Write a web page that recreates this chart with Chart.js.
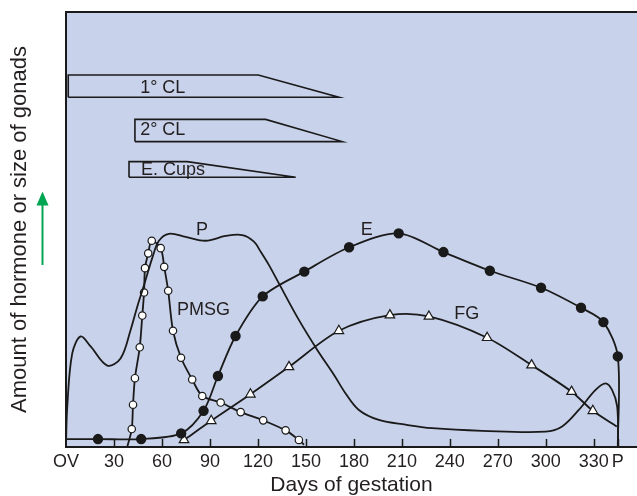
<!DOCTYPE html>
<html>
<head>
<meta charset="utf-8">
<script src="https://cdn.jsdelivr.net/npm/chart.js@4.4.1/dist/chart.umd.min.js"></script>
<style>
html, body { margin: 0; padding: 0; background: #fff; }
</style>
</head>
<body>
<canvas id="gestChart" width="637" height="496"></canvas>
<script>
// x axis: days of gestation (OV = ovulation, P = parturition)
const tickDays = [0, 30, 60, 90, 120, 150, 180, 210, 240, 270, 300, 330, 345];
const tickLabels = ["OV", "30", "60", "90", "120", "150", "180", "210", "240", "270", "300", "330", "P"];

// progesterone (P)
const pDays = [0, 0.8, 3.9, 9.2, 15.4, 25.8, 34.2, 40.4, 44.6, 48.8, 53.9, 58.1, 64.4, 74.8, 87.3, 99.8, 110.2, 117.5, 121.7, 126.9, 133.1, 145.6, 157.1, 167.5, 174.8, 183.1, 195.6, 212.3, 228.9, 260.2, 299.8, 310.2, 320.6, 331.1, 337.3, 341.4, 344.6, 345.2];
const pVals = [0.8, 9.3, 21.5, 25.4, 23.1, 18.7, 20.4, 26.9, 32.3, 37.2, 43.4, 47.4, 49.0, 48.3, 47.4, 48.5, 48.7, 47.2, 44.9, 41.8, 37.6, 29.2, 22.3, 16.6, 12.3, 8.5, 6.2, 5.1, 4.3, 3.7, 3.5, 4.7, 8.5, 13.1, 14.6, 13.1, 9.3, 0];

// estrogens (E)
const eDays = [0, 20, 47, 72, 86, 95, 106, 123, 149, 177, 208, 236, 265, 297, 322, 336, 345, 345];
const eVals = [1.8, 1.8, 1.8, 3.1, 8.3, 16.3, 25.5, 34.6, 40.3, 45.9, 49.1, 44.8, 40.5, 36.6, 32.0, 28.7, 20.8, 0];

// PMSG
const gDays = [38.3, 41.1, 41.9, 43.1, 46.1, 47.7, 48.8, 49.4, 51.4, 53.6, 59.2, 61.4, 63.9, 66.9, 71.9, 78.9, 85.2, 96.7, 109.2, 123.3, 137.3, 145.6, 148.8];
const gVals = [0, 4.1, 9.7, 15.8, 22.9, 30.2, 35.5, 41.1, 44.5, 47.4, 45.7, 41.4, 35.9, 26.7, 20.5, 15.5, 11.7, 10.2, 8.0, 6.1, 3.8, 1.6, 0.5];

// fetal gonads (FG)
const fDays = [73.8, 90.8, 115.3, 139.4, 170.6, 202.5, 226.9, 263.3, 291.1, 316.1, 329.4, 344.4];
const fVals = [1.6, 6.0, 12.1, 18.4, 26.7, 30.3, 30.0, 25.1, 18.8, 12.7, 8.3, 4.7];

// life span bars: 1° CL, 2° CL, endometrial cups
const barNames = ["1° CL", "2° CL", "E. Cups"];
const barStart = [1.4, 43.1, 39.4];
const barTaper = [120.2, 124.8, 75.8];
const barEnd = [170.6, 172.7, 143.6];
const barTop = [85.5, 75.3, 65.6];
const barBottom = [80.4, 70.2, 62.0];

// curve labels
const noteText = ["P", "E", "PMSG", "FG", "1° CL", "2° CL", "E. Cups"];
const noteDays = [85, 188, 86, 250.6, 60.5, 60.5, 66.9];
const noteVals = [49.9, 49.9, 31.5, 30.6, 82.5, 72.9, 63.7];

const FONT = "'Liberation Sans', Arial, Helvetica, sans-serif";
const INK = "#1a1a1a";
Chart.defaults.font.family = FONT;
Chart.defaults.color = "#231f20";

const pts = (xs, ys) => xs.map((d, i) => ({ x: d, y: ys[i] }));
const radii = (n, r, skip) => Array.from({ length: n }, (_, i) => skip.includes(i) ? 0 : r);

const barSets = barNames.map((name, i) => ({
	label: name,
	data: [
		{ x: barStart[i], y: barBottom[i] },
		{ x: barStart[i], y: barTop[i] },
		{ x: barTaper[i], y: barTop[i] },
		{ x: barEnd[i], y: barBottom[i] },
		{ x: barStart[i], y: barBottom[i] }
	],
	borderColor: INK,
	borderWidth: 1.6,
	pointRadius: 0,
	tension: 0,
	fill: false
}));

const decor = {
	id: "decor",
	beforeDraw(chart) {
		const { ctx, chartArea: a } = chart;
		ctx.save();
		ctx.fillStyle = "#c8d2ea";
		ctx.fillRect(a.left, a.top, a.right - a.left, a.bottom - a.top);
		ctx.restore();
	},
	afterDraw(chart) {
		const { ctx, chartArea: a, scales: { x, y } } = chart;
		ctx.save();
		// frame
		ctx.strokeStyle = INK;
		ctx.lineWidth = 2;
		ctx.beginPath();
		ctx.moveTo(a.right, a.top);
		ctx.lineTo(a.left, a.top);
		ctx.lineTo(a.left, a.bottom);
		ctx.lineTo(a.right, a.bottom);
		ctx.stroke();
		// inward tick marks
		ctx.lineWidth = 1.5;
		tickDays.slice(1).forEach(d => {
			const px = Math.round(x.getPixelForValue(d)) + 0.5;
			ctx.beginPath();
			ctx.moveTo(px, a.bottom);
			ctx.lineTo(px, a.bottom - 8);
			ctx.stroke();
		});
		// curve labels
		ctx.fillStyle = "#231f20";
		ctx.font = "18px " + FONT;
		ctx.textAlign = "center";
		ctx.textBaseline = "middle";
		noteText.forEach((t, i) => {
			ctx.fillText(t, x.getPixelForValue(noteDays[i]), y.getPixelForValue(noteVals[i]));
		});
		// green arrow beside the y title
		const ax = a.left - 23.5;
		const ay = (a.top + a.bottom) / 2;
		ctx.strokeStyle = "#00a651";
		ctx.fillStyle = "#00a651";
		ctx.lineWidth = 2;
		ctx.beginPath();
		ctx.moveTo(ax, ay + 35.5);
		ctx.lineTo(ax, ay - 26);
		ctx.stroke();
		ctx.beginPath();
		ctx.moveTo(ax, ay - 38);
		ctx.lineTo(ax - 6, ay - 24);
		ctx.lineTo(ax + 6, ay - 24);
		ctx.closePath();
		ctx.fill();
		ctx.restore();
	}
};

new Chart(document.getElementById("gestChart"), {
	type: "line",
	data: {
		datasets: [
			{
				label: "P",
				data: pts(pDays, pVals),
				borderColor: INK,
				borderWidth: 1.8,
				pointRadius: 0,
				tension: 0.35
			},
			{
				label: "E",
				data: pts(eDays, eVals),
				borderColor: INK,
				borderWidth: 1.8,
				pointStyle: "circle",
				pointRadius: radii(eDays.length, 4.3, [0, eDays.length - 1]),
				pointBackgroundColor: INK,
				pointBorderColor: INK,
				tension: 0.3
			},
			{
				label: "PMSG",
				data: pts(gDays, gVals),
				borderColor: INK,
				borderWidth: 1.8,
				pointStyle: "circle",
				pointRadius: radii(gDays.length, 3.7, [0, gDays.length - 1]),
				pointBackgroundColor: "#fff",
				pointBorderColor: INK,
				pointBorderWidth: 1.2,
				tension: 0.3
			},
			{
				label: "FG",
				data: pts(fDays, fVals),
				borderColor: INK,
				borderWidth: 1.8,
				pointStyle: "triangle",
				pointRadius: radii(fDays.length, 5.5, [fDays.length - 1]),
				pointBackgroundColor: "#fff",
				pointBorderColor: INK,
				pointBorderWidth: 1.2,
				tension: 0.3
			},
			...barSets
		]
	},
	options: {
		responsive: false,
		animation: false,
		layout: { autoPadding: false, padding: { top: 12, right: 0, bottom: 0, left: 0 } },
		scales: {
			x: {
				type: "linear",
				min: 0,
				max: 357,
				afterBuildTicks: scale => { scale.ticks = tickDays.map(v => ({ value: v })); },
				afterFit: scale => { scale.paddingRight = 0; scale.paddingLeft = 0; },
				ticks: {
					autoSkip: false,
					maxRotation: 0,
					padding: 4,
					font: { size: 18 },
					callback: v => tickLabels[tickDays.indexOf(v)]
				},
				grid: { display: false, drawTicks: false },
				border: { display: false },
				title: {
					display: true,
					text: "Days of gestation",
					font: { size: 21, lineHeight: 1 },
					padding: { top: -2, bottom: 0.5 }
				}
			},
			y: {
				min: 0,
				max: 100,
				ticks: { display: false },
				grid: { display: false, drawTicks: false },
				border: { display: false },
				title: {
					display: true,
					text: "Amount of hormone or size of gonads",
					font: { size: 22, lineHeight: 1 },
					padding: { top: 9, bottom: 35 }
				}
			}
		},
		plugins: {
			legend: { display: false },
			tooltip: { enabled: false }
		}
	},
	plugins: [decor]
});
</script>
</body>
</html>
